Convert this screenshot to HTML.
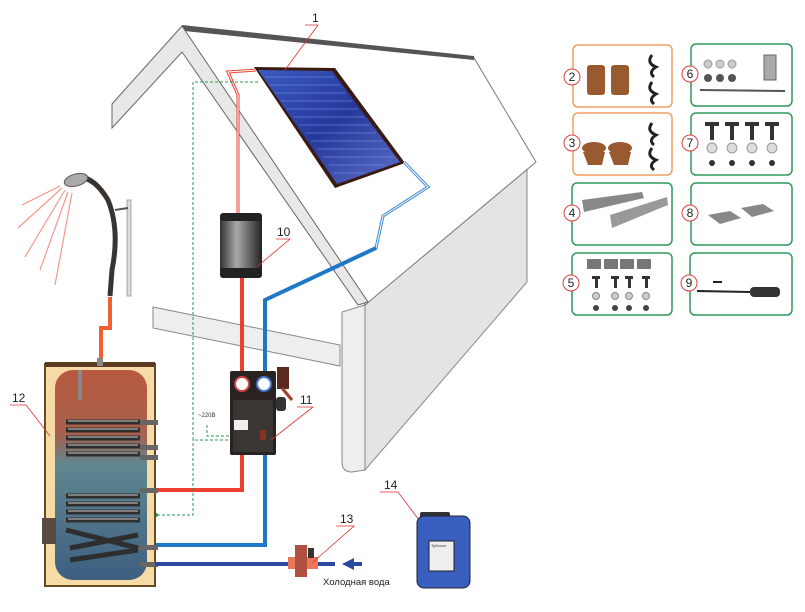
<!DOCTYPE html>
<html><head><meta charset="utf-8"><style>
html,body{margin:0;padding:0;background:#fff;}
svg{display:block;font-family:"Liberation Sans","DejaVu Sans",sans-serif;}
</style></head><body>
<svg width="805" height="612" viewBox="0 0 805 612" xmlns="http://www.w3.org/2000/svg">
<defs>
<linearGradient id="tankg" x1="0" y1="0" x2="0" y2="1">
<stop offset="0" stop-color="#b85a40"/><stop offset="0.3" stop-color="#a8604c"/><stop offset="0.45" stop-color="#5f8790"/><stop offset="1" stop-color="#3d5f80"/></linearGradient>
<linearGradient id="panelg" x1="0" y1="0" x2="1" y2="1">
<stop offset="0" stop-color="#3a5ac0"/><stop offset="0.5" stop-color="#26399a"/><stop offset="1" stop-color="#5a6ec8"/></linearGradient>
<linearGradient id="cylg" x1="0" y1="0" x2="1" y2="0">
<stop offset="0" stop-color="#333"/><stop offset="0.4" stop-color="#aaa"/><stop offset="1" stop-color="#222"/></linearGradient>
</defs>
<polygon points="365,305 527,168 527,282 365,470" fill="#e4e4e4" stroke="#888" stroke-width="1"/>
<path d="M342,312 L342,462 Q342,472 352,472 L365,470 L365,305 Z" fill="#eee" stroke="#888"/>
<polygon points="182,27 474,58 536,162 365,305" fill="#fff" stroke="#777" stroke-width="1"/>
<polygon points="182,25 474,56 474,60 184,31" fill="#555"/>
<polygon points="182,26 112,104 112,128 182,52 358,305 368,302 186,32" fill="#e8e8e8" stroke="#666" stroke-width="1"/>
<polygon points="153,307 340,345 340,366 153,328" fill="#eee" stroke="#888"/>
<polygon points="254,67 335,68 405,163 335,188" fill="#3a1a10"/>
<polygon points="258,70 332,71 400,162 337,184" fill="url(#panelg)"/>
<g stroke="#9ab0ff" stroke-width="0.6" opacity="0.8">
<line x1="265" y1="77" x2="334" y2="77"/><line x1="270" y1="85" x2="340" y2="85"/><line x1="275" y1="93" x2="346" y2="93"/><line x1="281" y1="101" x2="352" y2="101"/><line x1="287" y1="109" x2="358" y2="109"/><line x1="293" y1="117" x2="364" y2="117"/><line x1="299" y1="125" x2="370" y2="125"/><line x1="305" y1="133" x2="376" y2="133"/><line x1="311" y1="141" x2="382" y2="141"/><line x1="317" y1="149" x2="388" y2="149"/><line x1="323" y1="157" x2="394" y2="157"/><line x1="329" y1="165" x2="385" y2="165"/><line x1="334" y1="173" x2="365" y2="173"/></g>
<text x="312" y="22" font-size="12" fill="#222">1</text>
<polyline points="305,25 318,25 285,70" fill="none" stroke="#e03030" stroke-width="0.8"/>
<polyline points="256,70 228,72 238,95 238,215" fill="none" stroke="#e84030" stroke-width="3"/>
<polyline points="256,70 228,72 238,95 238,215" fill="none" stroke="#fff" stroke-width="1"/>
<polyline points="404,162 428,187 383,216 376,248 265,300" fill="none" stroke="#3a8ad0" stroke-width="3"/>
<polyline points="404,162 428,187 383,216 376,248" fill="none" stroke="#fff" stroke-width="1"/>
<polyline points="376,248 265,300 265,545 155,545" fill="none" stroke="#1e78c8" stroke-width="4"/>
<polyline points="242,278 242,490 155,490" fill="none" stroke="#ee4030" stroke-width="4"/>
<polyline points="258,82 193,82 193,440 230,440" fill="none" stroke="#2a9a50" stroke-width="1" stroke-dasharray="3,2"/>
<polyline points="193,438 193,515 155,515" fill="none" stroke="#2a9a50" stroke-width="1" stroke-dasharray="3,2"/>
<polyline points="207,425 207,436 230,436" fill="none" stroke="#2a9a50" stroke-width="1" stroke-dasharray="3,2"/>
<circle cx="156" cy="515" r="2" fill="#2a9a50"/>
<text x="198" y="417" font-size="6" fill="#333">~220В</text>
<rect x="220" y="213" width="42" height="65" rx="4" fill="url(#cylg)"/>
<rect x="220" y="213" width="42" height="8" rx="3" fill="#222"/>
<rect x="220" y="268" width="42" height="10" rx="3" fill="#222"/>
<text x="277" y="236" font-size="12" fill="#222">10</text>
<polyline points="276,239 290,239 258,266" fill="none" stroke="#e03030" stroke-width="0.8"/>
<rect x="230" y="371" width="46" height="84" rx="2" fill="#2a2220"/>
<rect x="233" y="400" width="40" height="52" fill="#3a3634"/>
<circle cx="242" cy="384" r="7" fill="#fff" stroke="#c44" stroke-width="2"/>
<circle cx="264" cy="384" r="7" fill="#fff" stroke="#47c" stroke-width="2"/>
<rect x="234" y="420" width="14" height="10" fill="#eee"/>
<rect x="260" y="430" width="6" height="10" fill="#8a3020"/>
<rect x="276" y="397" width="10" height="14" rx="3" fill="#333"/>
<rect x="277" y="367" width="12" height="22" fill="#5a2a20"/>
<line x1="282" y1="388" x2="292" y2="400" stroke="#a04030" stroke-width="3"/>
<text x="300" y="404" font-size="12" fill="#222">11</text>
<polyline points="297,407 313,407 271,440" fill="none" stroke="#e03030" stroke-width="0.8"/>
<g stroke="#f08070" stroke-width="1.2" opacity="0.8">
<line x1="62" y1="188" x2="18" y2="228"/><line x1="65" y1="190" x2="25" y2="257"/><line x1="68" y1="192" x2="40" y2="270"/><line x1="72" y1="193" x2="55" y2="285"/><line x1="60" y1="186" x2="22" y2="205"/></g>
<path d="M70,180 Q90,170 108,200 Q120,230 112,270 L110,296" fill="none" stroke="#3a3430" stroke-width="5"/>
<ellipse cx="76" cy="180" rx="12" ry="6" fill="#aaa" stroke="#555" transform="rotate(-15 76 180)"/>
<rect x="127" y="200" width="4" height="96" fill="#ddd" stroke="#888" stroke-width="0.7"/>
<line x1="115" y1="210" x2="128" y2="208" stroke="#555" stroke-width="2"/>
<polyline points="110,297 110,328 101,328 101,362" fill="none" stroke="#f06030" stroke-width="4"/>
<rect x="45" y="364" width="110" height="222" fill="#f6dba6" stroke="#6a4a20" stroke-width="2"/>
<rect x="45" y="362" width="110" height="5" fill="#5a3a20"/>
<rect x="55" y="370" width="92" height="210" rx="18" fill="url(#tankg)"/>
<g fill="none" stroke="#2e2e2e" stroke-width="5">
<line x1="66" y1="422" x2="140" y2="422"/><line x1="66" y1="430" x2="140" y2="430"/><line x1="66" y1="438" x2="140" y2="438"/><line x1="66" y1="446" x2="140" y2="446"/><line x1="66" y1="454" x2="140" y2="454"/>
<line x1="66" y1="496" x2="140" y2="496"/><line x1="66" y1="504" x2="140" y2="504"/><line x1="66" y1="512" x2="140" y2="512"/><line x1="66" y1="520" x2="140" y2="520"/><line x1="66" y1="530" x2="138" y2="548"/><line x1="70" y1="548" x2="138" y2="535"/><line x1="70" y1="560" x2="138" y2="550"/></g>
<g fill="none" stroke="#999" stroke-width="1.5">
<line x1="68" y1="421" x2="138" y2="421"/><line x1="68" y1="429" x2="138" y2="429"/><line x1="68" y1="437" x2="138" y2="437"/><line x1="68" y1="445" x2="138" y2="445"/><line x1="68" y1="453" x2="138" y2="453"/><line x1="68" y1="495" x2="138" y2="495"/><line x1="68" y1="503" x2="138" y2="503"/><line x1="68" y1="511" x2="138" y2="511"/><line x1="68" y1="519" x2="138" y2="519"/></g>
<rect x="42" y="518" width="14" height="26" fill="#5a4a40"/>
<rect x="78" y="370" width="4" height="30" fill="#888"/>
<rect x="97" y="358" width="6" height="8" fill="#888"/>
<g fill="#666"><rect x="140" y="420" width="18" height="5"/><rect x="140" y="445" width="18" height="5"/><rect x="140" y="455" width="18" height="5"/><rect x="140" y="488" width="18" height="5"/><rect x="140" y="545" width="18" height="5"/><rect x="140" y="562" width="18" height="5"/></g>
<text x="12" y="402" font-size="12" fill="#222">12</text>
<polyline points="10,405 26,405 50,436" fill="none" stroke="#e03030" stroke-width="0.8"/>
<line x1="155" y1="564" x2="335" y2="564" stroke="#2a4aa0" stroke-width="4"/>
<polygon points="342,564 354,558 354,570" fill="#2a4aa0"/><line x1="352" y1="564" x2="362" y2="564" stroke="#2a4aa0" stroke-width="4"/>
<rect x="288" y="557" width="30" height="12" fill="#e87858"/>
<rect x="295" y="545" width="12" height="32" fill="#b05040"/>
<rect x="308" y="548" width="6" height="10" fill="#333"/>
<text x="340" y="523" font-size="12" fill="#222">13</text>
<polyline points="336,526 354,526 312,563" fill="none" stroke="#e03030" stroke-width="0.8"/>
<text x="323" y="585" font-size="9.5" fill="#222">Холодная вода</text>
<text x="384" y="489" font-size="12" fill="#222">14</text>
<polyline points="380,492 398,492 422,524" fill="none" stroke="#e03030" stroke-width="0.8"/>
<rect x="420" y="512" width="30" height="8" rx="2" fill="#333"/>
<rect x="417" y="516" width="53" height="72" rx="7" fill="#3a5ec0" stroke="#223" stroke-width="1"/>
<rect x="429" y="541" width="25" height="30" fill="#eee" stroke="#222"/>
<text x="431" y="547" font-size="4" fill="#333">Тубосол</text>
<g fill="none" stroke-width="1.5">
<rect x="573" y="45" width="99" height="62" rx="5" stroke="#f0a060"/>
<rect x="573" y="113" width="99" height="62" rx="5" stroke="#f0a060"/>
<rect x="572" y="183" width="100" height="62" rx="5" stroke="#2e9a5a"/>
<rect x="572" y="253" width="100" height="62" rx="5" stroke="#2e9a5a"/>
<rect x="691" y="44" width="101" height="62" rx="5" stroke="#2e9a5a"/>
<rect x="691" y="113" width="101" height="62" rx="5" stroke="#2e9a5a"/>
<rect x="691" y="183" width="101" height="62" rx="5" stroke="#2e9a5a"/>
<rect x="690" y="253" width="102" height="62" rx="5" stroke="#2e9a5a"/>
</g>
<g fill="#fff" stroke="#e04040" stroke-width="1">
<circle cx="572" cy="77" r="8"/><circle cx="572" cy="143" r="8"/><circle cx="572" cy="213" r="8"/><circle cx="571" cy="283" r="8"/>
<circle cx="690" cy="74" r="8"/><circle cx="690" cy="143" r="8"/><circle cx="690" cy="213" r="8"/><circle cx="689" cy="283" r="8"/></g>
<g font-size="12" fill="#222" text-anchor="middle">
<text x="572" y="81">2</text><text x="572" y="147">3</text><text x="572" y="217">4</text><text x="571" y="287">5</text>
<text x="690" y="78">6</text><text x="690" y="147">7</text><text x="690" y="217">8</text><text x="689" y="287">9</text></g>
<g fill="#9a5a30"><rect x="587" y="65" width="18" height="30" rx="3"/><rect x="611" y="65" width="18" height="30" rx="3"/></g>
<g fill="#9a5a30"><path d="M583,152 L605,152 L602,165 L588,165Z M609,152 L631,152 L628,165 L614,165Z"/><ellipse cx="594" cy="148" rx="12" ry="6"/><ellipse cx="620" cy="148" rx="12" ry="6"/></g>
<g fill="none" stroke="#222" stroke-width="3"><path d="M652,55 q-6,8 4,12 q-8,5 -2,10"/><path d="M652,82 q-6,8 4,12 q-8,5 -2,10"/><path d="M652,123 q-6,8 4,12 q-8,5 -2,10"/><path d="M652,148 q-6,8 4,12 q-8,5 -2,10"/></g>
<polygon points="582,200 642,192 644,198 584,212" fill="#888"/>
<polygon points="610,215 667,197 668,205 612,228" fill="#999"/>
<g fill="#777"><rect x="587" y="259" width="14" height="10"/><rect x="604" y="259" width="14" height="10"/><rect x="620" y="259" width="14" height="10"/><rect x="637" y="259" width="14" height="10"/></g>
<g fill="#333"><rect x="592" y="276" width="8" height="3"/><rect x="595" y="276" width="3" height="12"/><rect x="611" y="276" width="8" height="3"/><rect x="614" y="276" width="3" height="12"/><rect x="625" y="276" width="8" height="3"/><rect x="628" y="276" width="3" height="12"/><rect x="642" y="276" width="8" height="3"/><rect x="645" y="276" width="3" height="12"/></g>
<g fill="#ccc" stroke="#888"><circle cx="596" cy="296" r="3.5"/><circle cx="615" cy="296" r="3.5"/><circle cx="629" cy="296" r="3.5"/><circle cx="646" cy="296" r="3.5"/></g>
<g fill="#444"><circle cx="596" cy="308" r="3"/><circle cx="615" cy="308" r="3"/><circle cx="629" cy="308" r="3"/><circle cx="646" cy="308" r="3"/></g>
<g fill="#ccc" stroke="#999"><circle cx="708" cy="64" r="4"/><circle cx="720" cy="64" r="4"/><circle cx="732" cy="64" r="4"/></g>
<g fill="#555"><circle cx="708" cy="78" r="4"/><circle cx="720" cy="78" r="4"/><circle cx="732" cy="78" r="4"/></g>
<rect x="764" y="55" width="12" height="25" fill="#aaa" stroke="#666"/>
<line x1="700" y1="90" x2="785" y2="91" stroke="#555" stroke-width="2"/>
<g fill="#333"><rect x="705" y="122" width="14" height="4"/><rect x="710" y="122" width="4" height="18"/><rect x="725" y="122" width="14" height="4"/><rect x="730" y="122" width="4" height="18"/><rect x="745" y="122" width="14" height="4"/><rect x="750" y="122" width="4" height="18"/><rect x="765" y="122" width="14" height="4"/><rect x="770" y="122" width="4" height="18"/></g>
<g fill="#ddd" stroke="#999"><circle cx="712" cy="148" r="5"/><circle cx="732" cy="148" r="5"/><circle cx="752" cy="148" r="5"/><circle cx="772" cy="148" r="5"/></g>
<g fill="#333"><circle cx="712" cy="163" r="3"/><circle cx="732" cy="163" r="3"/><circle cx="752" cy="163" r="3"/><circle cx="772" cy="163" r="3"/></g>
<polygon points="708,215 730,211 741,218 720,224" fill="#888"/>
<polygon points="741,208 763,204 774,211 752,217" fill="#888"/>
<line x1="713" y1="282" x2="722" y2="282" stroke="#222" stroke-width="2"/>
<line x1="697" y1="291" x2="750" y2="292" stroke="#222" stroke-width="2"/>
<rect x="750" y="287" width="30" height="10" rx="4" fill="#333"/>
</svg>
</body></html>
